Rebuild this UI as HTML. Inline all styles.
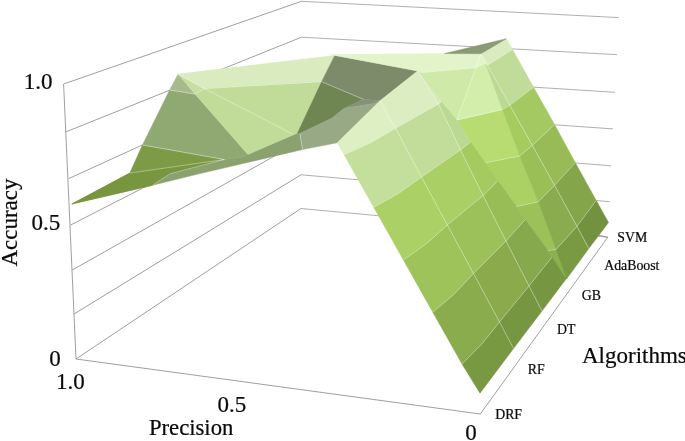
<!DOCTYPE html>
<html><head><meta charset="utf-8"><title>Accuracy vs Precision by Algorithm</title>
<style>html,body{margin:0;padding:0;background:#fff;}svg{display:block}</style></head>
<body>
<svg width="685" height="441" viewBox="0 0 685 441">
<polyline points="63.6,84.0 301.5,1.3" fill="none" stroke="#868686" stroke-width="0.8" stroke-opacity="1" />
<polyline points="301.5,1.3 618.8,17.6" fill="none" stroke="#9a9a9a" stroke-width="0.8" stroke-opacity="1" />
<polyline points="66.2,131.8 301.5,37.2" fill="none" stroke="#868686" stroke-width="0.8" stroke-opacity="1" />
<polyline points="301.5,37.2 617.0,54.7" fill="none" stroke="#9a9a9a" stroke-width="0.8" stroke-opacity="1" />
<polyline points="68.7,178.6 301.4,72.4" fill="none" stroke="#868686" stroke-width="0.8" stroke-opacity="1" />
<polyline points="301.4,72.4 614.8,92.3" fill="none" stroke="#9a9a9a" stroke-width="0.8" stroke-opacity="1" />
<polyline points="70.4,225.1 301.3,107.0" fill="none" stroke="#868686" stroke-width="0.8" stroke-opacity="1" />
<polyline points="301.3,107.0 613.0,128.9" fill="none" stroke="#9a9a9a" stroke-width="0.8" stroke-opacity="1" />
<polyline points="72.2,270.0 301.2,141.0" fill="none" stroke="#868686" stroke-width="0.8" stroke-opacity="1" />
<polyline points="301.2,141.0 329.1,143.2" fill="none" stroke="#9a9a9a" stroke-width="0.8" stroke-opacity="1" />
<polyline points="564.7,162.1 611.2,165.8" fill="none" stroke="#9a9a9a" stroke-width="0.8" stroke-opacity="1" />
<polyline points="74.0,314.0 301.0,174.8" fill="none" stroke="#868686" stroke-width="0.8" stroke-opacity="1" />
<polyline points="301.0,174.8 609.8,201.7" fill="none" stroke="#9a9a9a" stroke-width="0.8" stroke-opacity="1" />
<polyline points="76.0,359.0 301.0,208.5" fill="none" stroke="#868686" stroke-width="0.8" stroke-opacity="1" />
<polyline points="301.0,208.5 607.8,237.2" fill="none" stroke="#9a9a9a" stroke-width="0.8" stroke-opacity="1" />
<polyline points="63.6,84.0 76.0,359.0" fill="none" stroke="#868686" stroke-width="0.8" stroke-opacity="1" />
<polyline points="76.0,359.0 480.3,414.0 607.8,237.2" fill="none" stroke="#868686" stroke-width="0.8" stroke-opacity="1" />
<polyline points="598.8,235.3 607.8,237.2" fill="none" stroke="#868686" stroke-width="0.8" stroke-opacity="1" />
<polygon points="152.4,185.3 170.0,173.8 224.3,159.5 241.5,157.2 247.9,154.4 297.5,133.1 299.8,133.5 302.6,149.5 200.0,173.6" fill="#8ba16f" stroke="#8ba16f" stroke-width="0.5" stroke-linejoin="round" />
<polygon points="71.8,204.0 129.8,173.1 142.5,144.9 224.3,159.5 170.0,173.8 152.4,185.3" fill="#7d9b46" stroke="#7d9b46" stroke-width="0.5" stroke-linejoin="round" />
<polygon points="71.8,204.0 129.8,173.1 224.3,159.5 170.0,173.8 152.4,185.3" fill="#78963f" stroke="#78963f" stroke-width="0.5" stroke-linejoin="round" />
<polygon points="142.5,144.9 169.6,89.9 195.0,94.1 247.9,154.4 241.5,157.2 224.3,159.5" fill="#90a972" stroke="#90a972" stroke-width="0.5" stroke-linejoin="round" />
<polygon points="178.1,74.1 169.6,89.9 195.0,94.1" fill="#a7ba8d" stroke="#a7ba8d" stroke-width="0.5" stroke-linejoin="round" />
<polygon points="178.1,74.1 195.0,94.1 204.4,88.6" fill="#c6dea0" stroke="#c6dea0" stroke-width="0.5" stroke-linejoin="round" />
<polygon points="178.1,74.1 334.8,55.4 321.6,81.7 204.4,88.6" fill="#d9ebbf" stroke="#d9ebbf" stroke-width="0.5" stroke-linejoin="round" />
<polygon points="204.4,88.6 321.6,81.7 297.5,133.1 247.9,154.4 195.0,94.1" fill="#c1dc99" stroke="#c1dc99" stroke-width="0.5" stroke-linejoin="round" />
<polygon points="334.8,55.4 417.6,70.9 380.0,100.8 363.5,99.3 321.6,81.7" fill="#7e8b6b" stroke="#7e8b6b" stroke-width="0.5" stroke-linejoin="round" />
<polygon points="321.6,81.7 363.5,99.3 344.3,108.3 331.8,118.3 299.8,133.5 297.5,133.1" fill="#6f8653" stroke="#6f8653" stroke-width="0.5" stroke-linejoin="round" />
<polygon points="363.5,99.3 380.0,100.8 372.6,103.8 344.3,108.3" fill="#85917a" stroke="#85917a" stroke-width="0.5" stroke-linejoin="round" />
<polygon points="344.3,108.3 372.6,103.8 380.0,100.8 337.3,142.7 302.6,149.5 299.8,133.5 331.8,118.3" fill="#98a985" stroke="#98a985" stroke-width="0.5" stroke-linejoin="round" />
<polyline points="142.5,144.9 224.3,159.5" fill="none" stroke="#fff" stroke-width="0.7" stroke-opacity="0.55" />
<polyline points="129.8,173.1 224.3,159.5" fill="none" stroke="#fff" stroke-width="0.7" stroke-opacity="0.55" />
<polyline points="152.4,185.3 170.0,173.8 224.3,159.5" fill="none" stroke="#fff" stroke-width="0.7" stroke-opacity="0.55" />
<polyline points="169.6,89.9 195.0,94.1 204.4,88.6" fill="none" stroke="#fff" stroke-width="0.7" stroke-opacity="0.55" />
<polyline points="178.1,74.1 204.4,88.6" fill="none" stroke="#fff" stroke-width="0.7" stroke-opacity="0.55" />
<polyline points="204.4,88.6 292.6,134.0" fill="none" stroke="#fff" stroke-width="0.7" stroke-opacity="0.55" />
<polyline points="204.4,88.6 321.6,81.7 363.5,99.3" fill="none" stroke="#fff" stroke-width="0.7" stroke-opacity="0.55" />
<polyline points="299.8,133.5 302.6,149.5" fill="none" stroke="#fff" stroke-width="0.7" stroke-opacity="0.55" />
<polygon points="337.3,142.7 380.0,100.8 395.6,128.2 370.7,142.8 344.1,154.7" fill="#ddefc3" stroke="#ddefc3" stroke-width="0.5" stroke-linejoin="round" />
<polygon points="344.1,154.7 370.7,142.8 395.6,128.2 421.5,177.1 398.5,193.5 373.7,207.3" fill="#c4df9b" stroke="#c4df9b" stroke-width="0.5" stroke-linejoin="round" />
<polygon points="373.7,207.3 398.5,193.5 421.5,177.1 447.3,224.9 426.3,243.8 403.4,260.0" fill="#abd166" stroke="#abd166" stroke-width="0.5" stroke-linejoin="round" />
<polygon points="403.4,260.0 426.3,243.8 447.3,224.9 473.5,273.5 454.1,294.2 432.8,312.2" fill="#9fc35b" stroke="#9fc35b" stroke-width="0.5" stroke-linejoin="round" />
<polygon points="432.8,312.2 454.1,294.2 473.5,273.5 499.5,321.9 481.7,344.2 462.0,364.0" fill="#8bac4d" stroke="#8bac4d" stroke-width="0.5" stroke-linejoin="round" />
<polygon points="462.0,364.0 481.7,344.2 499.5,321.9 513.5,348.6 480.0,393.2" fill="#789842" stroke="#789842" stroke-width="0.5" stroke-linejoin="round" />
<polygon points="380.0,100.8 417.6,70.9 438.5,104.0 395.6,128.2" fill="#dbedc1" stroke="#dbedc1" stroke-width="0.5" stroke-linejoin="round" />
<polygon points="395.6,128.2 438.5,104.0 460.5,149.9 421.5,177.1" fill="#c2dd99" stroke="#c2dd99" stroke-width="0.5" stroke-linejoin="round" />
<polygon points="421.5,177.1 460.5,149.9 483.0,195.5 447.3,224.9" fill="#a9cf65" stroke="#a9cf65" stroke-width="0.5" stroke-linejoin="round" />
<polygon points="447.3,224.9 483.0,195.5 506.0,241.0 473.5,273.5" fill="#9dc15a" stroke="#9dc15a" stroke-width="0.5" stroke-linejoin="round" />
<polygon points="473.5,273.5 506.0,241.0 529.0,286.0 499.5,321.9" fill="#8aaa4c" stroke="#8aaa4c" stroke-width="0.5" stroke-linejoin="round" />
<polygon points="499.5,321.9 529.0,286.0 542.0,311.0 513.5,348.6" fill="#779641" stroke="#779641" stroke-width="0.5" stroke-linejoin="round" />
<polygon points="481.0,53.7 506.3,38.7 512.5,49.4 487.4,65.3" fill="#daebc0" stroke="#daebc0" stroke-width="0.5" stroke-linejoin="round" />
<polygon points="487.4,65.3 512.5,49.4 533.6,87.3 509.8,105.3" fill="#c1dc99" stroke="#c1dc99" stroke-width="0.5" stroke-linejoin="round" />
<polygon points="509.8,105.3 533.6,87.3 554.5,124.4 532.4,145.4" fill="#a4c962" stroke="#a4c962" stroke-width="0.5" stroke-linejoin="round" />
<polygon points="532.4,145.4 554.5,124.4 575.3,162.7 554.5,185.3" fill="#99bb57" stroke="#99bb57" stroke-width="0.5" stroke-linejoin="round" />
<polygon points="554.5,185.3 575.3,162.7 596.2,200.4 577.0,226.3" fill="#85a54a" stroke="#85a54a" stroke-width="0.5" stroke-linejoin="round" />
<polygon points="577.0,226.3 596.2,200.4 608.5,222.5 588.8,248.6" fill="#73923f" stroke="#73923f" stroke-width="0.5" stroke-linejoin="round" />
<polygon points="417.6,70.9 481.0,53.7 485.4,63.0 502.5,109.5 456.9,120.0 441.3,101.7" fill="#cfe9a8" stroke="#cfe9a8" stroke-width="0.5" stroke-linejoin="round" />
<polygon points="456.9,120.0 502.5,109.5 519.6,156.0 485.6,162.8 470.6,142.0 456.9,120.0" fill="#b8dc72" stroke="#b8dc72" stroke-width="0.5" stroke-linejoin="round" />
<polygon points="485.6,162.8 519.6,156.0 538.3,201.8 516.5,206.5 497.9,180.8 485.6,162.8" fill="#abd164" stroke="#abd164" stroke-width="0.5" stroke-linejoin="round" />
<polygon points="516.5,206.5 538.3,201.8 556.0,249.5 547.9,250.6 525.3,219.4 516.5,206.5" fill="#9cc158" stroke="#9cc158" stroke-width="0.5" stroke-linejoin="round" />
<polygon points="547.9,250.6 556.0,249.5 566.5,279.0 552.0,257.0" fill="#8bb04e" stroke="#8bb04e" stroke-width="0.5" stroke-linejoin="round" />
<polygon points="481.0,53.7 485.4,63.0 502.5,109.5 456.9,120.0" fill="#d3eeab" stroke="#d3eeab" stroke-width="0.5" stroke-linejoin="round" />
<polygon points="417.6,70.9 438.5,104.0 441.3,101.7" fill="#d6eabb" stroke="#d6eabb" stroke-width="0.5" stroke-linejoin="round" />
<polygon points="438.5,104.0 441.3,101.7 456.9,120.0 470.6,142.0 460.5,149.9" fill="#bcd993" stroke="#bcd993" stroke-width="0.5" stroke-linejoin="round" />
<polygon points="460.5,149.9 470.6,142.0 485.6,162.8 497.9,180.8 483.0,195.5" fill="#a4ca60" stroke="#a4ca60" stroke-width="0.5" stroke-linejoin="round" />
<polygon points="483.0,195.5 497.9,180.8 516.5,206.5 525.3,219.4 506.0,241.0" fill="#98bc56" stroke="#98bc56" stroke-width="0.5" stroke-linejoin="round" />
<polygon points="506.0,241.0 525.3,219.4 547.9,250.6 552.0,257.0 529.0,286.0" fill="#87a94d" stroke="#87a94d" stroke-width="0.5" stroke-linejoin="round" />
<polygon points="529.0,286.0 552.0,257.0 566.3,278.7 542.0,311.0" fill="#769641" stroke="#769641" stroke-width="0.5" stroke-linejoin="round" />
<polygon points="481.0,53.7 481.0,53.7 487.4,65.3 485.4,63.0" fill="#dcefc0" stroke="#dcefc0" stroke-width="0.5" stroke-linejoin="round" />
<polygon points="485.4,63.0 487.4,65.3 509.8,105.3 502.5,109.5" fill="#bcd992" stroke="#bcd992" stroke-width="0.5" stroke-linejoin="round" />
<polygon points="502.5,109.5 509.8,105.3 532.4,145.4 519.6,156.0" fill="#a5cc5f" stroke="#a5cc5f" stroke-width="0.5" stroke-linejoin="round" />
<polygon points="519.6,156.0 532.4,145.4 554.5,185.3 538.3,201.8" fill="#9bbf57" stroke="#9bbf57" stroke-width="0.5" stroke-linejoin="round" />
<polygon points="538.3,201.8 554.5,185.3 577.0,226.3 556.0,249.5" fill="#8aac4e" stroke="#8aac4e" stroke-width="0.5" stroke-linejoin="round" />
<polygon points="556.0,249.5 577.0,226.3 588.8,248.6 566.5,279.0" fill="#799a43" stroke="#799a43" stroke-width="0.5" stroke-linejoin="round" />
<polygon points="330.0,54.6 444.5,53.6 481.0,53.7 485.4,63.0 475.3,67.7 421.6,72.5 417.6,70.9 334.8,55.4" fill="#e3f3ca" stroke="#e3f3ca" stroke-width="0.5" stroke-linejoin="round" />
<polygon points="444.5,53.6 506.3,38.7 481.0,53.7" fill="#8a9a74" stroke="#8a9a74" stroke-width="0.5" stroke-linejoin="round" />
<polyline points="380.0,100.8 395.6,128.2 421.5,177.1 447.3,224.9 473.5,273.5 499.5,321.9 513.5,348.6" fill="none" stroke="#fff" stroke-width="0.7" stroke-opacity="0.55" />
<polyline points="417.6,70.9 438.5,104.0 460.5,149.9 483.0,195.5 506.0,241.0 529.0,286.0 542.0,311.0" fill="none" stroke="#fff" stroke-width="0.7" stroke-opacity="0.55" />
<polyline points="481.0,53.7 487.4,65.3 509.8,105.3 532.4,145.4 554.5,185.3 577.0,226.3 588.8,248.6" fill="none" stroke="#fff" stroke-width="0.7" stroke-opacity="0.55" />
<polyline points="344.1,154.7 370.7,142.8 395.6,128.2 438.5,104.0 441.3,101.7" fill="none" stroke="#fff" stroke-width="0.7" stroke-opacity="0.55" />
<polyline points="485.4,63.0 487.4,65.3 512.5,49.4" fill="none" stroke="#fff" stroke-width="0.7" stroke-opacity="0.55" />
<polyline points="373.7,207.3 398.5,193.5 421.5,177.1 460.5,149.9 470.6,142.0" fill="none" stroke="#fff" stroke-width="0.7" stroke-opacity="0.55" />
<polyline points="502.5,109.5 509.8,105.3 533.6,87.3" fill="none" stroke="#fff" stroke-width="0.7" stroke-opacity="0.55" />
<polyline points="403.4,260.0 426.3,243.8 447.3,224.9 483.0,195.5 497.9,180.8" fill="none" stroke="#fff" stroke-width="0.7" stroke-opacity="0.55" />
<polyline points="519.6,156.0 532.4,145.4 554.5,124.4" fill="none" stroke="#fff" stroke-width="0.7" stroke-opacity="0.55" />
<polyline points="432.8,312.2 454.1,294.2 473.5,273.5 506.0,241.0 525.3,219.4" fill="none" stroke="#fff" stroke-width="0.7" stroke-opacity="0.55" />
<polyline points="538.3,201.8 554.5,185.3 575.3,162.7" fill="none" stroke="#fff" stroke-width="0.7" stroke-opacity="0.55" />
<polyline points="462.0,364.0 481.7,344.2 499.5,321.9 529.0,286.0 552.0,257.0" fill="none" stroke="#fff" stroke-width="0.7" stroke-opacity="0.55" />
<polyline points="556.0,249.5 577.0,226.3 596.2,200.4" fill="none" stroke="#fff" stroke-width="0.7" stroke-opacity="0.55" />
<polyline points="456.9,120.0 502.5,109.5" fill="none" stroke="#fff" stroke-width="0.7" stroke-opacity="0.55" />
<polyline points="485.6,162.8 519.6,156.0" fill="none" stroke="#fff" stroke-width="0.7" stroke-opacity="0.55" />
<polyline points="516.5,206.5 538.3,201.8" fill="none" stroke="#fff" stroke-width="0.7" stroke-opacity="0.55" />
<polyline points="547.9,250.6 556.0,249.5" fill="none" stroke="#fff" stroke-width="0.7" stroke-opacity="0.55" />
<polyline points="481.0,53.7 456.9,120.0" fill="none" stroke="#fff" stroke-width="0.7" stroke-opacity="0.55" />
<polyline points="421.6,72.5 475.3,67.7 485.4,63.0" fill="none" stroke="#fff" stroke-width="0.7" stroke-opacity="0.4" />
<text x="23.7" y="89.4" font-size="23" font-family="Liberation Serif, serif" fill="#0a0a0a" stroke="#0a0a0a" stroke-width="0.22" >1.0</text>
<text x="31.5" y="229.8" font-size="23" font-family="Liberation Serif, serif" fill="#0a0a0a" stroke="#0a0a0a" stroke-width="0.22" >0.5</text>
<text x="49.3" y="365.8" font-size="23" font-family="Liberation Serif, serif" fill="#0a0a0a" stroke="#0a0a0a" stroke-width="0.22" >0</text>
<text x="56.1" y="388.9" font-size="23" font-family="Liberation Serif, serif" fill="#0a0a0a" stroke="#0a0a0a" stroke-width="0.22" >1.0</text>
<text x="217.6" y="411.5" font-size="23" font-family="Liberation Serif, serif" fill="#0a0a0a" stroke="#0a0a0a" stroke-width="0.22" >0.5</text>
<text x="465.2" y="439.5" font-size="23" font-family="Liberation Serif, serif" fill="#0a0a0a" stroke="#0a0a0a" stroke-width="0.22" >0</text>
<text x="148.9" y="434.6" font-size="22.7" font-family="Liberation Serif, serif" fill="#0a0a0a" stroke="#0a0a0a" stroke-width="0.22" >Precision</text>
<text x="582.0" y="363.0" font-size="23" font-family="Liberation Serif, serif" fill="#0a0a0a" stroke="#0a0a0a" stroke-width="0.22" >Algorithms</text>
<text x="0" y="0" font-size="23" font-family="Liberation Serif, serif" fill="#0a0a0a" stroke="#0a0a0a" stroke-width="0.22" transform="translate(17,266.6) rotate(-90)">Accuracy</text>
<text x="495.2" y="419" font-size="13.8" font-family="Liberation Serif, serif" fill="#0a0a0a" stroke="#0a0a0a" stroke-width="0.22" >DRF</text>
<text x="527.8" y="373.9" font-size="13.8" font-family="Liberation Serif, serif" fill="#0a0a0a" stroke="#0a0a0a" stroke-width="0.22" >RF</text>
<text x="557" y="333.8" font-size="13.8" font-family="Liberation Serif, serif" fill="#0a0a0a" stroke="#0a0a0a" stroke-width="0.22" >DT</text>
<text x="581.8" y="299.9" font-size="13.8" font-family="Liberation Serif, serif" fill="#0a0a0a" stroke="#0a0a0a" stroke-width="0.22" >GB</text>
<text x="604.2" y="269.6" font-size="13.8" font-family="Liberation Serif, serif" fill="#0a0a0a" stroke="#0a0a0a" stroke-width="0.22" >AdaBoost</text>
<text x="617.3" y="242.2" font-size="13.8" font-family="Liberation Serif, serif" fill="#0a0a0a" stroke="#0a0a0a" stroke-width="0.22" >SVM</text>
</svg>
</body></html>
